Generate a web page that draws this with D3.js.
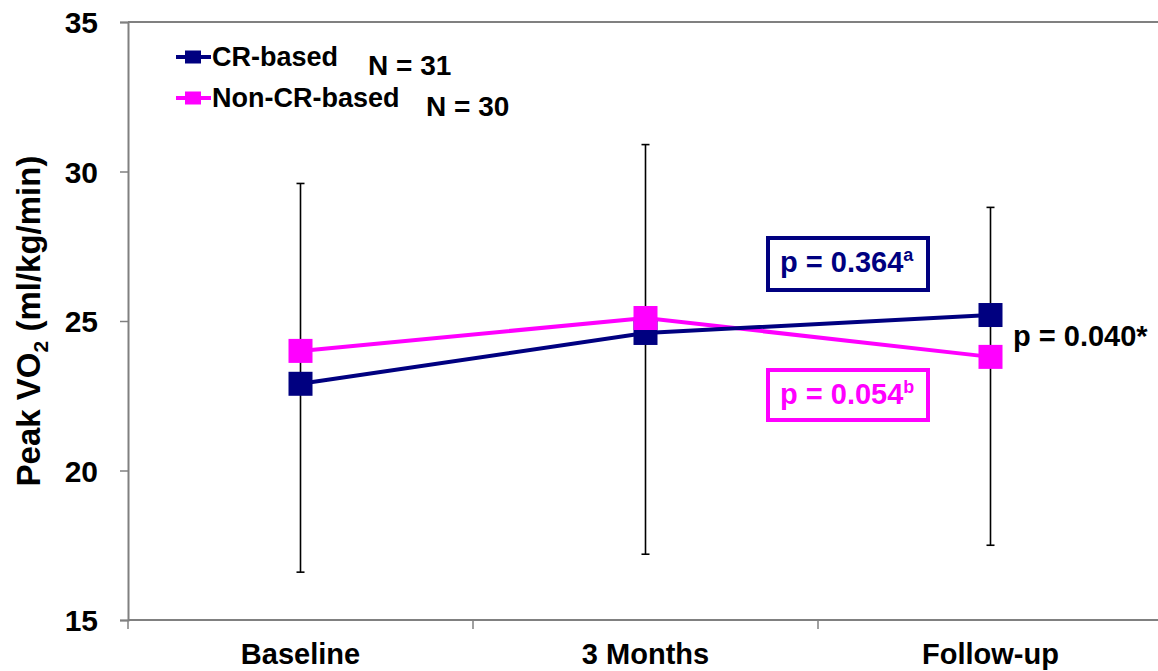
<!DOCTYPE html>
<html>
<head>
<meta charset="utf-8">
<script src="https://cdn.jsdelivr.net/npm/d3@7"></script>
<style>
  html, body { margin: 0; padding: 0; background: #fff; }
  svg { display: block; font-family: "Liberation Sans", Arial, sans-serif; font-weight: bold; }
</style>
</head>
<body>
<svg id="chart" width="1158" height="671"></svg>
<script>
// Time points and mean peak VO2 per group
const categories = ["Baseline", "3 Months", "Follow-up"];
const crBased = [22.9, 24.6, 25.2];
const nonCrBased = [24.0, 25.1, 23.8];
// Error bar extents at each time point
const errLow = [16.6, 17.2, 17.5];
const errHigh = [29.6, 30.9, 28.8];
const yTicks = [15, 20, 25, 30, 35];
const seriesNames = ["CR-based", "Non-CR-based"];
const seriesN = ["N = 31", "N = 30"];

const navy = "#000080", magenta = "#ff00ff", axisGray = "#808080";

const svg = d3.select("#chart");
const plotLeft = 128, plotRight = 1163, plotTop = 22, plotBottom = 620;

const x = d3.scaleBand().domain(categories).range([plotLeft, plotRight]).padding(0);
const xc = c => x(c) + x.bandwidth() / 2;
const y = d3.scaleLinear().domain([15, 35]).range([plotBottom, plotTop]);

// Top frame line
svg.append("line")
  .attr("x1", plotLeft).attr("x2", 1158).attr("y1", y(35)).attr("y2", y(35))
  .attr("stroke", axisGray).attr("stroke-width", 2);

// Y axis
const yAxis = svg.append("g").attr("transform", `translate(${plotLeft},0)`)
  .call(d3.axisLeft(y).tickValues(yTicks).tickSize(8).tickPadding(22).tickFormat(d3.format("d")));
yAxis.select(".domain").attr("stroke", axisGray).attr("stroke-width", 2);
yAxis.selectAll(".tick line").attr("stroke", axisGray).attr("stroke-width", 1.5);
yAxis.selectAll(".tick text").attr("font-size", 30).attr("font-weight", "bold")
  .attr("font-family", "Liberation Sans, Arial, sans-serif").attr("fill", "#000").attr("dy", "0.36em");

// X axis: line, boundary ticks, category labels
svg.append("line").attr("x1", plotLeft).attr("x2", 1158).attr("y1", plotBottom).attr("y2", plotBottom)
  .attr("stroke", axisGray).attr("stroke-width", 2);
svg.selectAll(".xtick").data(categories).join("line").attr("class", "xtick")
  .attr("x1", d => x(d)).attr("x2", d => x(d)).attr("y1", plotBottom).attr("y2", plotBottom + 9)
  .attr("stroke", axisGray).attr("stroke-width", 1.5);
svg.selectAll(".xlabel").data(categories).join("text").attr("class", "xlabel")
  .attr("x", d => xc(d)).attr("y", plotBottom + 44).attr("text-anchor", "middle")
  .attr("font-size", 29).text(d => d);

// Y axis title
const yTitle = svg.append("text")
  .attr("transform", `translate(40, ${(plotTop + plotBottom) / 2}) rotate(-90)`)
  .attr("text-anchor", "middle").attr("font-size", 33);
yTitle.append("tspan").text("Peak VO");
yTitle.append("tspan").attr("font-size", 21).attr("dy", 8).text("2");
yTitle.append("tspan").attr("dy", -8).text(" (ml/kg/min)");

// Error bars
const eb = svg.append("g").attr("stroke", "#000").attr("stroke-width", 1.6);
categories.forEach((c, i) => {
  const cx = xc(c);
  eb.append("line").attr("x1", cx).attr("x2", cx).attr("y1", y(errLow[i])).attr("y2", y(errHigh[i]));
  eb.append("line").attr("x1", cx - 4).attr("x2", cx + 4).attr("y1", y(errLow[i])).attr("y2", y(errLow[i]));
  eb.append("line").attr("x1", cx - 4).attr("x2", cx + 4).attr("y1", y(errHigh[i])).attr("y2", y(errHigh[i]));
});

// Series lines and square markers
const line = d3.line().x((d, i) => xc(categories[i])).y(d => y(d));
[[nonCrBased, magenta], [crBased, navy]].forEach(([vals, col]) => {
  svg.append("path").datum(vals).attr("d", line)
    .attr("fill", "none").attr("stroke", col).attr("stroke-width", 4);
});
[[crBased, navy], [nonCrBased, magenta]].forEach(([vals, col]) => {
  svg.selectAll(null).data(vals).join("rect")
    .attr("x", (d, i) => xc(categories[i]) - 12).attr("y", d => y(d) - 12)
    .attr("width", 24).attr("height", 24).attr("fill", col);
});

// Legend
const legendY = [57, 98];
const legendCol = [navy, magenta];
const nX = [368, 426];
const nY = [75, 116];
seriesNames.forEach((name, i) => {
  const g = svg.append("g");
  g.append("line").attr("x1", 176).attr("x2", 211).attr("y1", legendY[i]).attr("y2", legendY[i])
    .attr("stroke", legendCol[i]).attr("stroke-width", 4);
  g.append("rect").attr("x", 185).attr("y", legendY[i] - 6.5).attr("width", 16).attr("height", 13)
    .attr("fill", legendCol[i]);
  g.append("text").attr("x", 212).attr("y", legendY[i] + 9).attr("font-size", 27).text(name);
  g.append("text").attr("x", nX[i]).attr("y", nY[i]).attr("font-size", 28).text(seriesN[i]);
});

// p-value annotations
function pBox(x0, y0, w, h, col, main, sup) {
  svg.append("rect").attr("x", x0).attr("y", y0).attr("width", w).attr("height", h)
    .attr("fill", "none").attr("stroke", col).attr("stroke-width", 4);
  const t = svg.append("text").attr("x", x0 + 12).attr("y", y0 + 34)
    .attr("font-size", 29).attr("fill", col);
  t.append("tspan").text(main);
  t.append("tspan").attr("font-size", 18).attr("dy", -11).text(sup);
}
pBox(768, 238, 160, 52, navy, "p = 0.364", "a");
pBox(768, 370, 160, 50, magenta, "p = 0.054", "b");
svg.append("text").attr("x", 1013).attr("y", 346).attr("font-size", 29).attr("fill", "#000")
  .text("p = 0.040*");
</script>
</body>
</html>
